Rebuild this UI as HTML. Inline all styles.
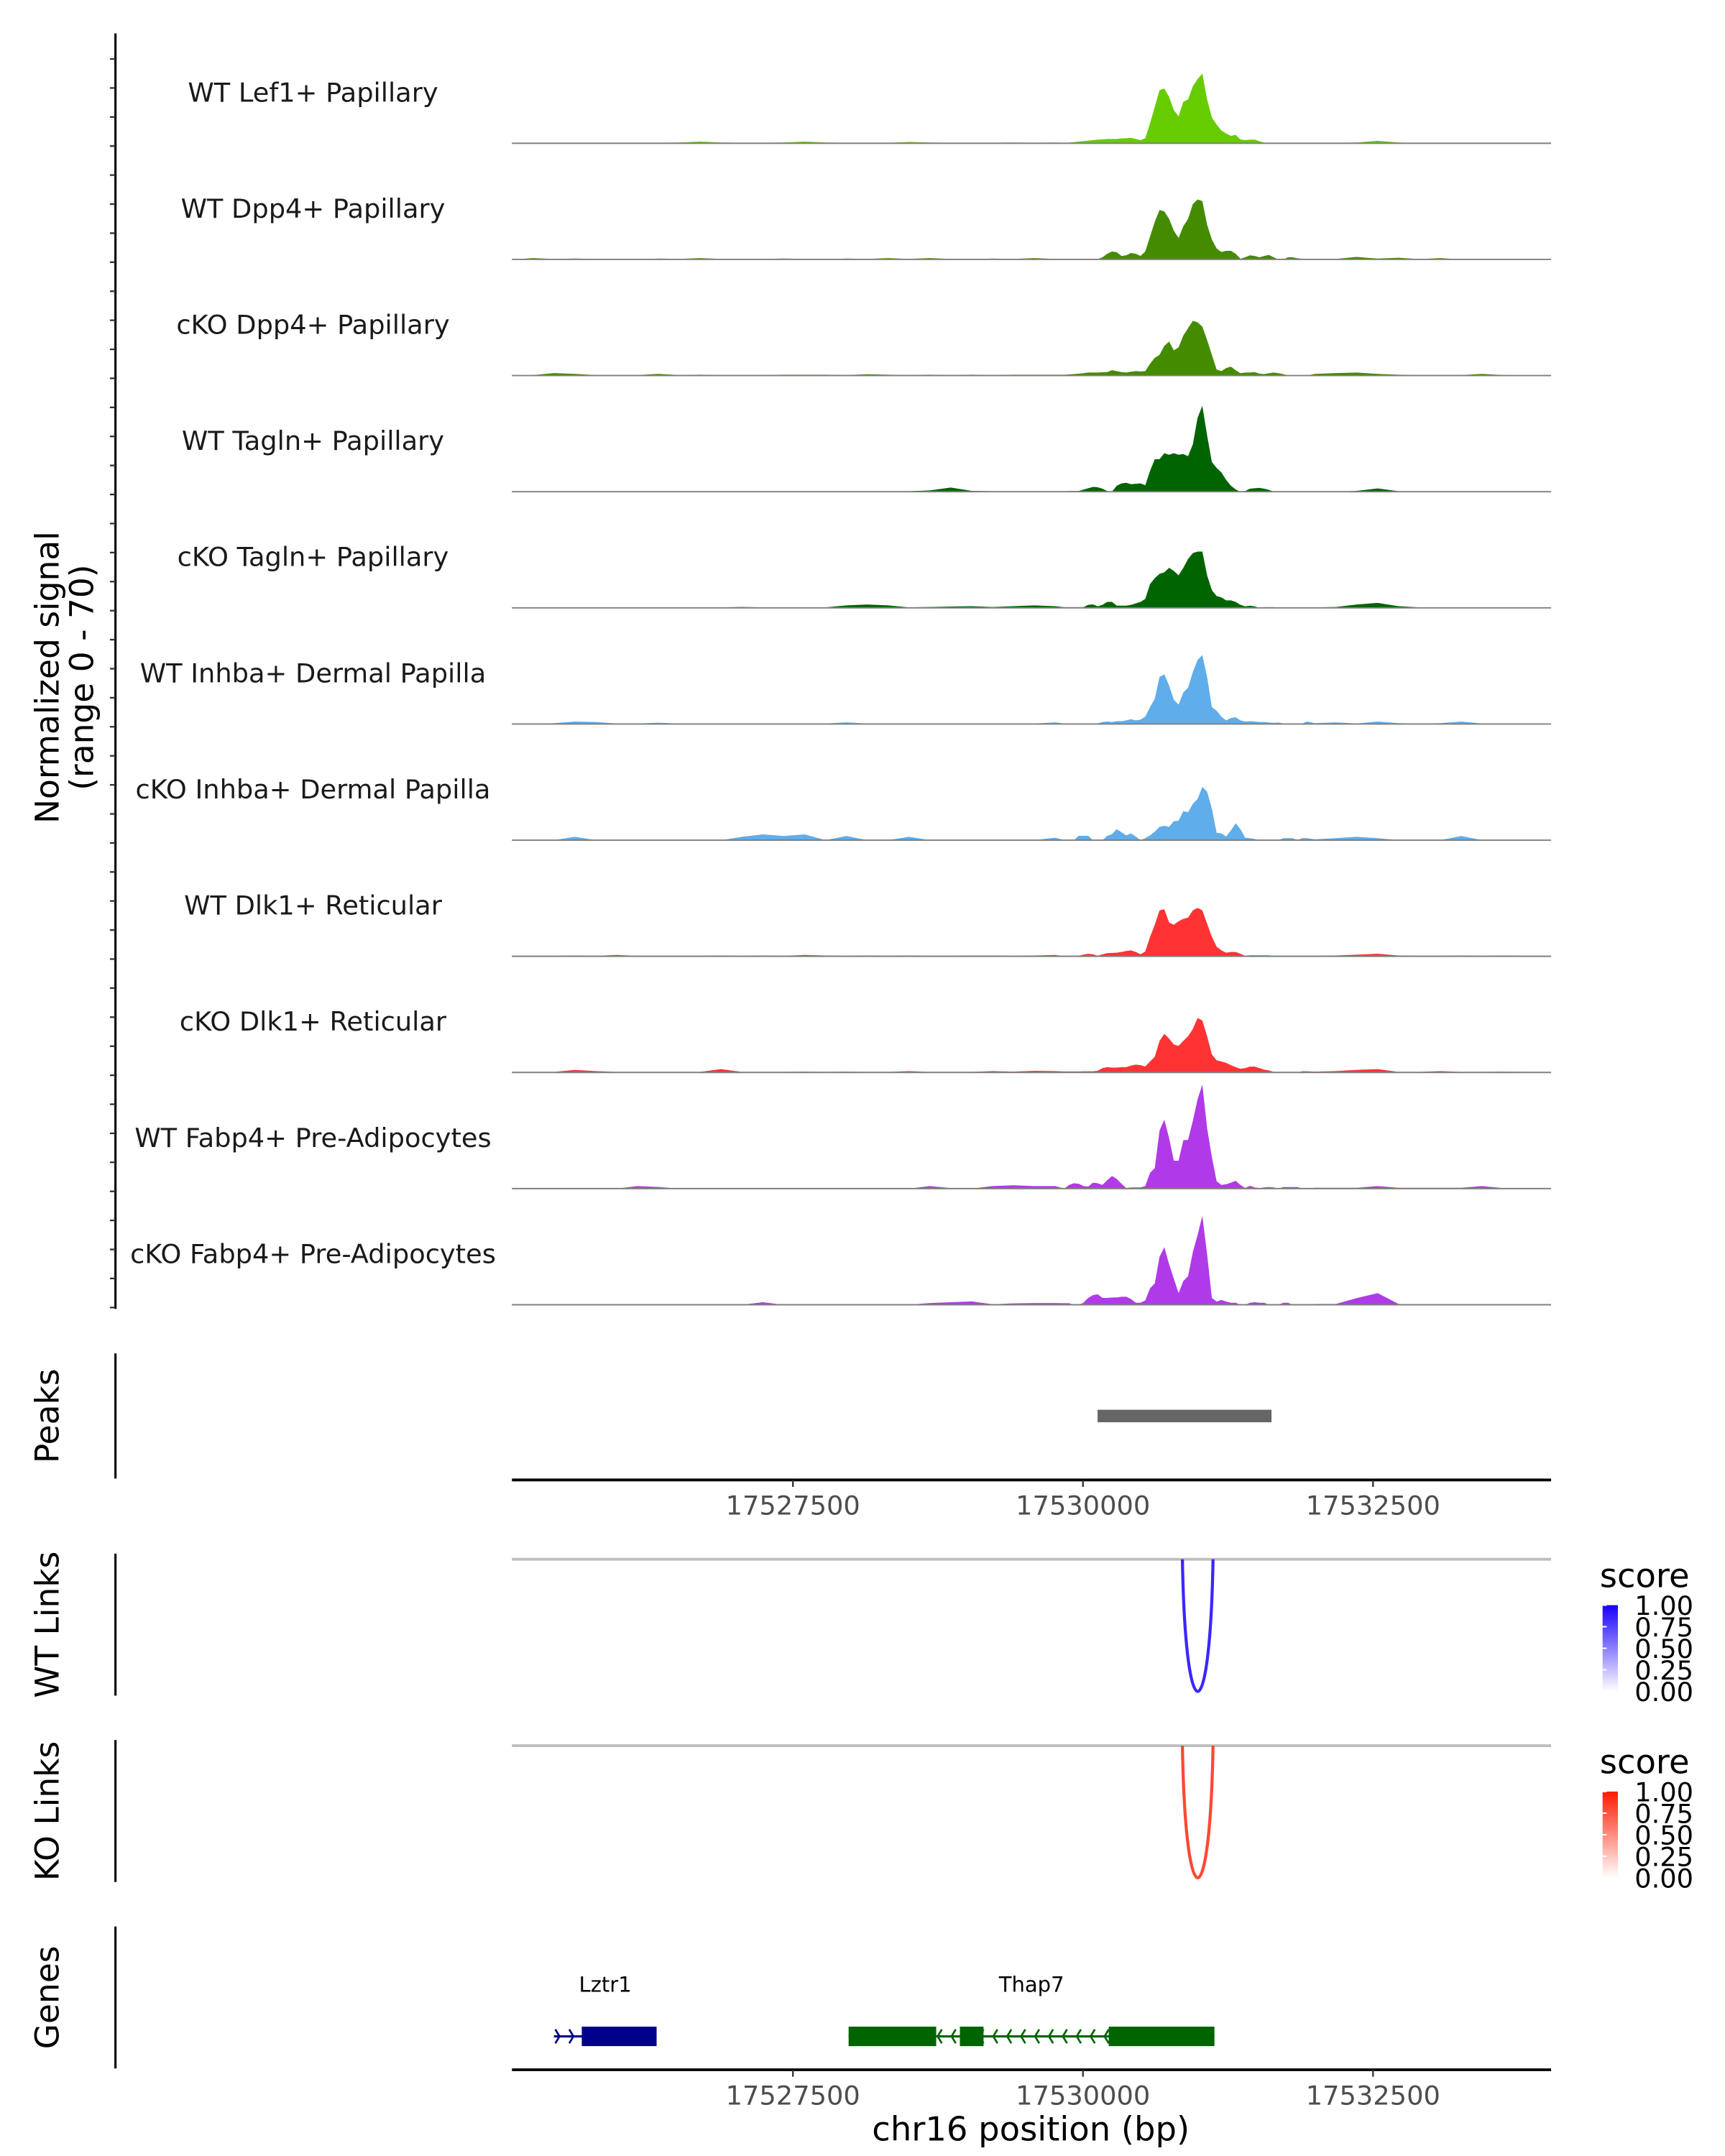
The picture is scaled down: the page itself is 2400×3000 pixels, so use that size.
<!DOCTYPE html>
<html><head><meta charset="utf-8">
<style>
html,body{margin:0;padding:0;background:#fff;}
svg{display:block;font-family:"DejaVu Sans","Liberation Sans",sans-serif;}
</style></head>
<body>
<svg id="chart" xmlns="http://www.w3.org/2000/svg" width="2400" height="3000" viewBox="0 0 1240 1550">
<defs>
<linearGradient id="gradBlue" x1="0" y1="1" x2="0" y2="0"><stop offset="0" stop-color="#ffffff"/><stop offset="1" stop-color="#1a00ff"/></linearGradient>
<linearGradient id="gradRed" x1="0" y1="1" x2="0" y2="0"><stop offset="0" stop-color="#ffffff"/><stop offset="1" stop-color="#ff1a00"/></linearGradient>
</defs>
<g id="tracks"></g>
<g id="axes"></g>
</svg>
<script>
// ---- data ----
const regionStart = 17525078;
const regionEnd = 17534035;
const xTicks = [17527500, 17530000, 17532500];
const xTickLabels = ["17527500", "17530000", "17532500"];
const yRangeMax = 70;
const trackNames = ["WT Lef1+ Papillary","WT Dpp4+ Papillary","cKO Dpp4+ Papillary","WT Tagln+ Papillary","cKO Tagln+ Papillary","WT Inhba+ Dermal Papilla","cKO Inhba+ Dermal Papilla","WT Dlk1+ Reticular","cKO Dlk1+ Reticular","WT Fabp4+ Pre-Adipocytes","cKO Fabp4+ Pre-Adipocytes"];
const trackColors = ["#66cc00","#458b00","#458b00","#006400","#006400","#5fadeb","#5fadeb","#ff3333","#ff3333","#b03ae8","#b03ae8"];
const positions = [17525080,17525260,17525440,17525620,17525800,17525980,17526160,17526340,17526520,17526700,17526880,17527060,17527240,17527420,17527600,17527780,17527960,17528140,17528320,17528500,17528680,17528860,17529040,17529220,17529400,17529580,17529760,
17529840,17529881,17529922,17529963,17530004,17530045,17530086,17530127,17530168,17530209,17530250,17530291,17530332,17530373,17530414,17530455,17530496,17530537,17530578,17530619,17530660,17530701,17530742,17530783,17530824,17530865,17530906,17530947,17530988,17531029,17531070,17531111,17531152,17531193,17531234,17531275,17531316,17531357,17531398,17531439,17531480,17531521,17531562,17531603,17531644,17531685,17531726,17531767,17531808,17531849,17531890,17531931,
17532000,17532180,17532360,17532540,17532720,17532900,17533080,17533260,17533440,17533620,17533800,17533980];
const sigLef1WT = [0,0,0,0,0,0,0.3,0.3,0.5,1,0.5,0.3,0.3,0.5,1,0.5,0.3,0.3,0.3,0.8,0.5,0.3,0.3,0.3,0.5,0.3,0.5,
0.3,0.4,0.7,1,1.3,1.6,1.9,2.2,2.3,2.6,2.6,2.6,2.9,3,3.3,2.6,1.9,3,12,22,32,33,28,20,16.3,25,26.4,34.4,38.7,42,26.4,15.6,11.3,7.7,5.9,4.5,5.1,2.3,1.9,2.2,2.2,1.2,0.4,0.1,0.1,0,0,0,0,0,0,0,
0.2,0.2,0.5,1.5,0.5,0.2,0.2,0.2,0.2,0.3,0.2,0];
const sigDpp4WT = [0,0.8,0.3,0.5,0.3,0,0,0.5,0.3,0.8,0.3,0,0.3,0.5,0.3,0,0.5,0.3,0.8,0.3,0.8,0.3,0,0.5,0.3,0.8,0.3,
0,0,0,0,0,0,0,0.2,1.3,3.4,4.8,4.3,2.1,2.5,3.9,3.4,2.1,4.8,13.8,22.7,29.8,28.9,24.5,17.3,12.9,20,24.5,33.4,36.1,35.2,20.9,12,6.6,4.5,5.2,5.2,3.4,0.4,1.3,2.5,2.1,1.3,2.1,2.7,1.3,0,0,1.3,1.3,0.7,0.4,0.4,
0.3,0.3,1.5,0.5,1,0.2,0.8,0,0,0,0,0];
const sigDpp4KO = [0,0.3,1.5,1,0.3,0.3,0.3,1,0.3,0.5,0.3,0.3,0.3,0.5,0.5,0.5,0.3,0.8,0.5,0.3,0.5,0.3,0.5,0.3,0.5,0.5,0.5,
0.5,0.7,0.9,1.1,1.4,1.8,1.8,1.8,2,2.1,3.2,2.7,2.1,1.8,2.3,2.7,2.5,2.7,7.1,10.7,12.5,17.9,20.5,15.2,17,24.1,28.6,33,32.1,29.5,21.4,12.5,3.6,2.7,4.5,5.4,3.2,1.4,1.8,1.8,2.1,1.1,0.9,1.4,1.8,1.4,0.9,0,0,0,0,0,
1,1.5,1.8,1,0.5,0.3,0.3,0.3,1,0.3,0,0];
const sigTaglnWT = [0,0,0,0,0,0,0,0,0,0,0,0,0,0,0,0,0,0,0,0.3,0.8,2.5,0.5,0.3,0.3,0.3,0.3,
0.2,0.4,0.4,0.4,1.3,2.1,2.9,2.7,1.8,0.4,0,3.6,5,5.4,4.5,4.8,5,3.9,12.5,19.6,19.6,23.2,22.3,23.2,22.3,22.7,21.4,28.6,44.6,51.8,33.9,17.9,14.3,11.6,7.1,3.6,1.4,0,0.4,1.8,2.1,2.3,1.8,1.1,0,0,0,0,0,0,0,0,
0,0,0.5,2,0.3,0,0,0,0,0,0,0];
const sigTaglnKO = [0,0,0,0,0,0,0,0,0,0.3,0.3,0.5,0.3,0.3,0.3,0.3,1.5,2,1.5,0.3,0.5,0.8,1,0.5,1,1.5,1,
0.4,0.4,0.4,0.4,0.4,1.8,2.1,0.9,1.8,3.6,3.6,1.3,1.3,1.3,1.8,2.7,3.6,5.4,14.3,17.9,20.5,21.4,24.1,22.3,19.6,24.1,29.5,33,33.9,33.9,19.6,10.7,7.1,6.3,4.5,4.5,3.6,1.8,0.9,1.3,0.9,0,0.4,0.4,0.4,0,0,0,0,0,0,0,
0.3,0.5,2,3,1,0.3,0.3,0,0,0,0,0];
const sigInhbaWT = [0,0,0.5,1.5,1.2,0.3,0.3,0.8,0.3,0.3,0.3,0.3,0.3,0.3,0.3,0.3,1,0.3,0.3,0.3,0.3,0.3,0.3,0.3,0.3,0.3,1,
0.3,0.3,0.3,0.3,0.3,0.3,0.3,0.3,1.2,1.5,1.2,1.7,1.7,2.2,2.9,2.2,2.6,4.4,10.2,15.3,28.4,29.9,23.3,14.6,11.7,19,21.9,31.3,38.6,41.5,28.4,10.2,8,4.4,2.2,3.6,4.1,2.2,1.5,1.7,1.5,1.2,1.2,0.9,0.7,0.9,0.3,0.3,0.3,0.3,0.3,1.5,
0.5,1,0.3,1.5,0.5,0.3,0.5,1.5,0.3,0,0,0];
const sigInhbaKO = [0,0,0,2,0,0,0,0,0,0,0,2,3.5,2.5,3.5,0,2.5,0,0,2,0,0,0,0,0,0,1.5,
0,0,0,2.6,2.6,2.6,0,0,0,2.6,3.6,6.6,4.7,2.9,4.1,2.2,0,1.2,2.9,5.1,8,8.7,8,11.4,11.7,17.5,16.8,21.9,24.8,32.1,29.2,19,4.4,4.1,2.2,5.8,10.2,6.6,1.5,1.2,0.7,0,0,0,0,0,1.2,1.2,1.2,0,1.2,1.2,
0.5,1.2,2,1.2,0,0,0,2.5,0,0,0,0];
const sigDlk1WT = [0,0,0.3,0.5,0.3,0.8,0.3,0.3,0.3,0.3,0.5,0.3,0.5,0.3,0.8,0.5,0.3,0.5,0.3,0.5,0.3,0.3,0.5,0.5,0.3,0.5,0.8,
0,0,0,0.4,1,1.5,1.2,0.3,1.2,1.9,2,2.2,2.6,3.2,3.6,2.6,1.2,2.9,11.7,19,27.7,28.4,20.4,19,21.1,22.6,23.3,27.7,29.2,27.7,19.7,11.7,5.8,3.6,2.2,2.6,2.6,1.5,0.3,0.6,0.6,0.6,0.6,0.6,0,0,0,0,0,0,0,0.3,
0.3,0.5,1,1.5,0.5,0.3,0.3,0.5,0.3,0.5,0.3,0.3];
const sigDlk1KO = [0,0,0.3,1.5,0.8,0.3,0.3,0.3,0.3,0.3,2,0.3,0.3,0.3,0.5,0.3,0.5,0.3,0.3,0.8,0.3,0.3,0.3,0.8,0.5,1,0.8,
0.6,0.6,0.6,0.6,0.7,0.7,0.7,1,2.6,3.2,2.9,2.9,3.2,3.2,4.1,4.7,4.4,3.6,6.6,9.5,19,23.3,20.4,16.8,16,19,21.9,26.2,32.8,31.3,21.9,10.9,7.3,6.6,5.8,4.4,3.2,2.2,2.6,3.5,3.5,2.6,1.7,1.2,0.3,0.1,0.1,0.1,0.1,0.1,0.7,0.7,
0.5,0.8,1.5,2,0.3,0.3,0.8,0.3,0.3,0.5,0.3,0];
const sigFabp4WT = [0,0,0,0,0,0,1.5,1,0,0,0,0,0,0,0,0,0,0,0,0,1.5,0.3,0,1.5,2,1.5,1.5,
0,2.2,3.2,2.9,1.5,1.2,3.6,3.2,2.2,5.1,7.6,5.8,2.9,0.3,0.7,0.7,0.7,1.5,9.5,12.4,35,41.5,30.6,16.8,16.8,29.2,29.4,40.8,53.9,62.7,36.4,19,4.4,2.2,2.6,3.6,4.7,2.2,0.3,1.7,0.7,0.3,0.7,0.9,0.7,0,0.9,0.9,0.9,0.9,0,0,
0.5,0.5,0.5,1.5,0.5,0.5,0.5,0.5,1.5,0.3,0,0];
const sigFabp4KO = [0,0,0,0,0,0,0,0,0,0,0,0,1.5,0,0,0,0,0,0,0,1,1.5,2,0.3,0.8,1,1,
0.9,0.9,0,0,1.2,4.1,5.8,6.3,4.1,4.1,4.4,4.4,4.8,4.8,3.4,1.2,1.2,2.6,9.9,12.8,28.9,34.7,24.5,15.7,7,14.3,17.2,31.8,42,53.6,30.3,4.1,1.9,2.9,1.9,1.2,1.2,0,0,1.2,1.5,1.2,1.2,0,0,0,1.2,1.2,0,0,0,0,
0.5,0.5,4,7,0.5,0,0,0,0,0,0,0];
const trackSignals = [sigLef1WT,sigDpp4WT,sigDpp4KO,sigTaglnWT,sigTaglnKO,sigInhbaWT,sigInhbaKO,sigDlk1WT,sigDlk1KO,sigFabp4WT,sigFabp4KO];
const peakStarts = [17530126];
const peakEnds = [17531625];
const wtLinkStarts = [17530857];
const wtLinkEnds = [17531121];
const wtLinkScores = [0.85];
const koLinkStarts = [17530857];
const koLinkEnds = [17531121];
const koLinkScores = [0.8];
const legendTicks = [0, 0.25, 0.5, 0.75, 1];
const legendTickLabels = ["0.00","0.25","0.50","0.75","1.00"];
const geneNames = ["Lztr1","Thap7"];
const geneStarts = [17525440, 17527980];
const geneEnds = [17526325, 17531133];
const geneStrands = ["+","-"];
const geneColors = ["#00008b","#006400"];
const exonStarts = [[17525680],[17527980,17528939,17530222]];
const exonEnds = [[17526325],[17528735,17529143,17531133]];

// ---- layout ----
const NS = "http://www.w3.org/2000/svg";
const X0 = 368, X1 = 1115;
function xs(bp){ return X0 + (bp - regionStart) / (regionEnd - regionStart) * (X1 - X0); }
const trackH = 83.5, firstBase = 103;
function el(tag, attrs, parent, txt){
  const e = document.createElementNS(NS, tag);
  for (const k in attrs) e.setAttribute(k, attrs[k]);
  if (txt !== undefined) e.textContent = txt;
  parent.appendChild(e);
  return e;
}
const tracksG = document.getElementById('tracks');
const axesG = document.getElementById('axes');

trackSignals.forEach((sig, t) => {
  const base = firstBase + t * trackH;
  const ys = v => base - v / yRangeMax * trackH;
  const g = el('g', {}, tracksG);
  
  
  let d = 'M' + X0 + ',' + base;
  sig.forEach((v, i) => { d += ' L' + xs(positions[i]).toFixed(2) + ',' + ys(v).toFixed(2); });
  d += ' L' + X1 + ',' + base + ' Z';
  const area = el('path', {d: d, fill: trackColors[t], stroke: 'none'}, g);
  
  
  const bl = el('line', {x1: X0, x2: X1, y1: base, y2: base, stroke: '#7f7f7f', 'stroke-width': 1}, g);
  
  
  const lab = el('text', {x: 225, y: base - 30, 'text-anchor': 'middle', 'font-size': 19, fill: '#1a1a1a'}, g, trackNames[t]);
  
  
});

// left signal axis
const yAxis = el('line', {x1: 83, x2: 83, y1: 24, y2: 941, stroke: '#000', 'stroke-width': 1.6}, axesG);


for (let k = 0; k <= 43; k++) {
  const y = 940 - k * trackH / 4;
  const tk = el('line', {x1: 79, x2: 83, y1: y, y2: y, stroke: '#333', 'stroke-width': 1.2}, axesG);
  
  
}
const yt = el('text', {transform: 'translate(42,487) rotate(-90)', 'text-anchor': 'middle', 'font-size': 23.5, fill: '#000'}, axesG);


el('tspan', {x: 0, dy: 0}, yt, 'Normalized signal');
el('tspan', {x: 0, dy: 25}, yt, '(range 0 - 70)');

function panelAxis(y1, y2, title, name){
  const l = el('line', {x1: 83, x2: 83, y1: y1, y2: y2, stroke: '#000', 'stroke-width': 1.6}, axesG);
  
  
  const t = el('text', {transform: 'translate(42,' + ((y1 + y2) / 2) + ') rotate(-90)', 'text-anchor': 'middle', 'font-size': 23.5, fill: '#000'}, axesG, title);
  
  
}
function xAxis(y, name){
  const l = el('line', {x1: X0, x2: X1, y1: y, y2: y, stroke: '#000', 'stroke-width': 2}, axesG);
  
  
  xTicks.forEach((bp, i) => {
    const x = xs(bp);
    const tk = el('line', {x1: x, x2: x, y1: y, y2: y + 5, stroke: '#333', 'stroke-width': 1.2}, axesG);
    
    
    const tl = el('text', {x: x, y: y + 25, 'text-anchor': 'middle', 'font-size': 19, fill: '#4d4d4d'}, axesG, xTickLabels[i]);
    
    
  });
}

// peaks
panelAxis(973, 1063, 'Peaks', 'peaks');
peakStarts.forEach((s, i) => {
  const r = el('rect', {x: xs(s), y: 1013.5, width: xs(peakEnds[i]) - xs(s), height: 9, fill: '#666666'}, axesG);
  
  
});
xAxis(1064, 'peaks-x-axis');

// links
function linkPanel(top, bottom, starts, ends, scores, rgb, grad, title, name){
  panelAxis(top, bottom, title, name);
  const gl = el('line', {x1: X0, x2: X1, y1: top + 4, y2: top + 4, stroke: '#bebebe', 'stroke-width': 2}, axesG);
  
  
  starts.forEach((s, i) => {
    const a = xs(s), b = xs(ends[i]), sc = scores[i];
    const c = rgb.map(v => Math.round(255 + (v - 255) * sc));
    const base = top + 4, depth = bottom - 3 - base;
    const d = 'M' + a + ',' + base + ' C' + (a + (b - a) * 0.1) + ',' + (base + depth / 0.75) + ' ' + (b - (b - a) * 0.1) + ',' + (base + depth / 0.75) + ' ' + b + ',' + base;
    const p = el('path', {d: d, fill: 'none', stroke: 'rgb(' + c.join(',') + ')', 'stroke-width': 2.2}, axesG);
    
    
  });
  const lg = el('g', {}, axesG);
  
  
  const lt = el('text', {x: 1150, y: top + 24, 'font-size': 24, fill: '#000'}, lg, 'score');
  
  
  const barTop = top + 37, barH = 62;
  const cb = el('rect', {x: 1152, y: barTop, width: 11, height: barH, fill: 'url(#' + grad + ')'}, lg);
  
  
  legendTicks.forEach((v, i) => {
    const y = barTop + barH - v * barH;
    const tl = el('text', {x: 1175, y: y + 7, 'font-size': 19, fill: '#000'}, lg, legendTickLabels[i]);
    
    
    const tk = el('line', {x1: 1152, x2: 1155, y1: y, y2: y, stroke: '#fff', 'stroke-width': 1}, lg);
    
    
  });
}
linkPanel(1117, 1219, wtLinkStarts, wtLinkEnds, wtLinkScores, [26, 0, 255], 'gradBlue', 'WT Links', 'wt-links');
linkPanel(1251, 1353, koLinkStarts, koLinkEnds, koLinkScores, [255, 26, 0], 'gradRed', 'KO Links', 'ko-links');

// genes
panelAxis(1385, 1487, 'Genes', 'genes');
const gy = 1464;
geneNames.forEach((nm, i) => {
  const g = el('g', {}, axesG);
  
  
  const col = geneColors[i];
  const a = xs(geneStarts[i]), b = xs(geneEnds[i]);
  el('line', {x1: a, x2: b, y1: gy, y2: gy, stroke: col, 'stroke-width': 1.6}, g);
  const dir = geneStrands[i] === '+' ? 1 : -1;
  for (let x = a + 4; x < b - 2; x += 10) {
    el('path', {d: 'M' + (x - 3 * dir) + ',' + (gy - 5) + ' L' + x + ',' + gy + ' L' + (x - 3 * dir) + ',' + (gy + 5), fill: 'none', stroke: col, 'stroke-width': 1.4}, g);
  }
  exonStarts[i].forEach((s, j) => {
    const r = el('rect', {x: xs(s), y: gy - 7, width: xs(exonEnds[i][j]) - xs(s), height: 14, fill: col}, g);
    
    
  });
  const t = el('text', {x: (a + b) / 2, y: 1432, 'text-anchor': 'middle', 'font-size': 15, fill: '#000'}, g, nm);
  
  
});
xAxis(1488, 'x-axis');
const xt = el('text', {x: 741, y: 1539, 'text-anchor': 'middle', 'font-size': 24, fill: '#000'}, axesG, 'chr16 position (bp)');


</script>
</body></html>
